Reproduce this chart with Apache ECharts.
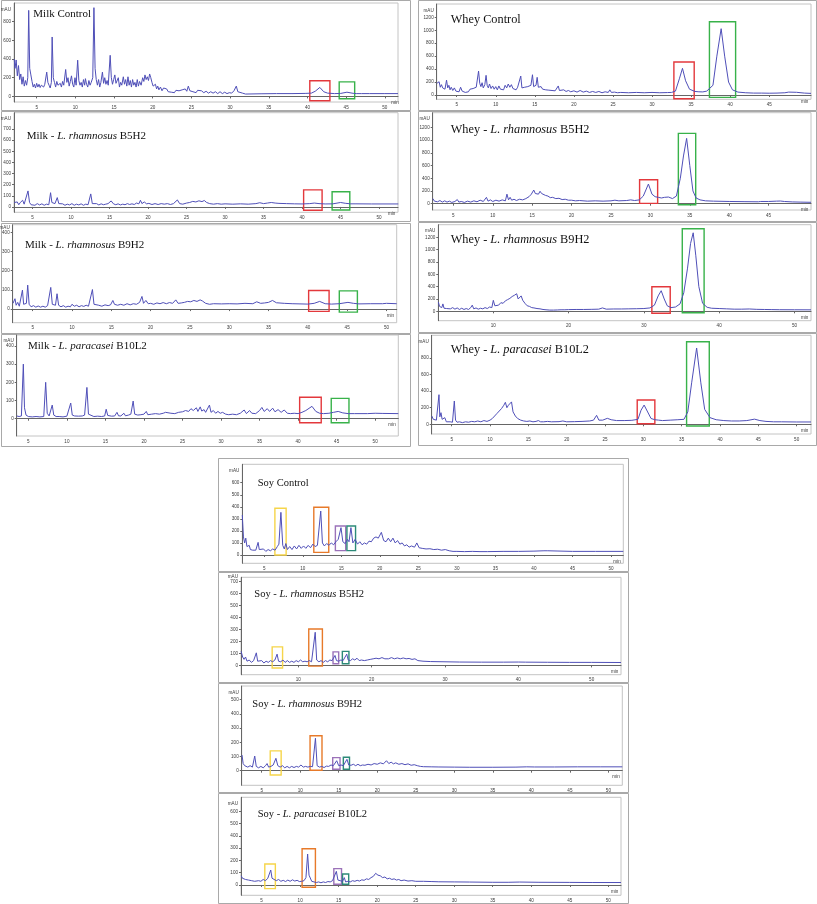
<!DOCTYPE html>
<html>
<head>
<meta charset="utf-8">
<script src="https://cdn.jsdelivr.net/npm/echarts@6.0.0/dist/echarts.min.js"></script>
<style>html,body{margin:0;padding:0;background:#fff}#c{width:817px;height:904px}</style>
</head>
<body>
<div id="c"></div>
<script>
// ---------- data: [time (min), absorbance (mAU)] ----------
const milkControl = [[2.1,400],[2.2,300],[2.35,390],[2.5,220],[2.65,330],[2.8,180],[2.95,240],[3.1,130],[3.25,210],[3.4,110],[3.55,170],[3.7,120],[3.85,200],[3.97,921],[4.1,300],[4.25,230],[4.4,160],[4.55,100],[4.7,130],[4.85,90],[5.0,140],[5.15,100],[5.3,130],[5.45,95],[5.6,120],[5.75,140],[5.9,100],[6.05,130],[6.2,110],[6.3,260],[6.45,150],[6.6,120],[6.75,90],[6.9,150],[7.0,636],[7.15,200],[7.3,150],[7.45,100],[7.6,160],[7.75,120],[7.9,110],[8.05,140],[8.2,100],[8.35,160],[8.5,120],[8.75,288],[8.9,150],[9.05,200],[9.2,110],[9.35,160],[9.5,220],[9.65,130],[9.8,100],[9.95,200],[10.1,120],[10.3,388],[10.45,170],[10.6,120],[10.75,150],[10.9,100],[11.05,180],[11.2,120],[11.3,190],[11.45,130],[11.6,100],[11.75,170],[11.9,120],[12.05,150],[12.25,200],[12.4,950],[12.55,300],[12.7,180],[12.85,120],[13.0,180],[13.15,100],[13.3,150],[13.5,260],[13.65,140],[13.8,200],[13.95,130],[14.1,170],[14.25,120],[14.5,440],[14.65,200],[14.8,130],[14.95,180],[15.1,230],[15.25,140],[15.4,120],[15.55,200],[15.7,100],[15.85,150],[16.0,120],[16.2,210],[16.35,130],[16.5,180],[16.65,110],[16.8,210],[16.95,120],[17.1,170],[17.25,100],[17.4,180],[17.55,120],[17.7,150],[17.85,100],[18.0,180],[18.15,110],[18.3,160],[18.5,120],[18.7,200],[18.85,160],[19.0,230],[19.15,180],[19.3,210],[19.45,170],[19.6,240],[19.75,200],[19.9,150],[20.05,110],[20.2,90],[20.35,130],[20.5,80],[20.65,110],[20.8,70],[21.0,100],[21.2,60],[21.4,90],[21.6,70],[21.8,80],[22.0,50],[22.2,70],[22.4,45],[22.6,60],[22.8,40],[23.0,65],[23.2,45],[23.4,60],[23.6,40],[23.8,70],[24.0,50],[24.2,80],[24.4,55],[24.6,110],[24.8,60],[25.0,80],[25.2,50],[25.4,70],[25.6,40],[25.8,65],[26.0,45],[26.3,60],[26.6,40],[26.9,55],[27.2,35],[27.5,50],[27.8,35],[28.1,50],[28.4,30],[28.7,50],[29.0,30],[29.3,45],[29.6,30],[29.9,40],[30.2,35],[30.5,60],[30.8,110],[31.0,50],[31.2,30],[31.6,35],[32,25],[34,28],[36,30],[38,30],[39.7,32],[39.8,45],[39.9,30],[40.5,35],[41.0,55],[41.6,96],[42.1,50],[42.6,35],[43.5,30],[43.6,38],[43.7,30],[44.3,32],[45.1,45],[45.9,33],[46.3,30],[47,30],[48,30],[50,30],[51.7,30]];
const milkB5H2 = [[2.6,40],[2.8,25],[3.0,45],[3.2,20],[3.4,40],[3.7,60],[3.9,25],[4.1,30],[4.4,144],[4.6,40],[4.8,20],[5.0,30],[5.3,15],[5.6,30],[5.9,18],[6.2,28],[6.5,15],[6.8,25],[7.1,20],[7.33,128],[7.5,40],[7.7,25],[7.9,30],[8.2,84],[8.4,30],[8.6,18],[8.9,28],[9.2,15],[9.5,25],[9.8,18],[10.1,30],[10.4,15],[10.7,25],[11.0,18],[11.3,28],[11.6,15],[11.9,25],[12.2,20],[12.55,117],[12.75,30],[13.0,22],[13.3,30],[13.6,18],[13.9,28],[14.2,20],[14.5,25],[14.8,30],[15.2,54],[15.5,28],[15.8,20],[16.1,28],[16.4,18],[16.7,25],[17.0,20],[17.3,30],[17.6,22],[17.9,28],[18.2,22],[18.5,35],[18.8,28],[19.0,60],[19.2,30],[19.5,45],[19.8,28],[20.1,32],[20.5,22],[20.9,30],[21.3,22],[21.7,30],[22.1,25],[22.5,30],[22.9,22],[23.3,30],[23.8,63],[24.1,30],[24.5,25],[25.0,35],[25.4,40],[25.8,50],[26.2,45],[26.6,55],[27.0,48],[27.3,58],[27.6,40],[28.0,30],[28.5,25],[29.0,30],[29.5,25],[30.0,28],[31,25],[32,28],[33,25],[34,30],[34.5,38],[35,30],[35.5,35],[36,40],[36.5,35],[37,32],[38,30],[39,28],[40,27],[41,30],[41.6,35],[42.2,30],[43,27],[44,28],[45,40],[45.6,33],[46.3,28],[47,28],[49,27],[52.5,27]];
const milkB9H2 = [[2.5,30],[2.75,54],[2.9,20],[3.1,35],[3.3,15],[3.5,25],[3.7,99],[3.85,25],[4.0,15],[4.2,30],[4.37,125],[4.55,25],[4.8,12],[5.1,18],[5.4,10],[5.7,16],[6.0,10],[6.3,15],[6.6,10],[6.9,18],[7.1,15],[7.3,113],[7.5,25],[7.7,15],[7.9,20],[8.1,80],[8.3,20],[8.6,12],[8.9,18],[9.2,10],[9.5,15],[9.8,12],[10.0,25],[10.3,15],[10.6,20],[10.9,12],[11.2,18],[11.5,14],[11.8,20],[12.1,15],[12.35,20],[12.6,102],[12.8,25],[13.0,15],[13.4,20],[13.8,15],[14.2,22],[14.6,18],[14.9,22],[15.2,45],[15.4,25],[15.8,20],[16.2,25],[16.6,20],[17.0,28],[17.4,22],[17.8,28],[18.2,25],[18.6,35],[18.9,66],[19.1,30],[19.4,45],[19.7,28],[20.0,30],[20.4,25],[20.8,32],[21.2,28],[21.6,34],[22.0,28],[22.4,34],[22.8,30],[23.2,48],[23.5,30],[23.9,32],[24.3,35],[24.7,40],[25.1,38],[25.5,45],[25.9,40],[26.3,48],[26.6,42],[27.0,30],[27.5,25],[28.0,28],[29,27],[30,28],[31,27],[32,30],[33,28],[33.5,38],[34,30],[34.5,32],[35,35],[35.5,45],[36,33],[37,30],[38,28],[39,27],[40,26],[40.8,30],[41.5,40],[42.2,28],[43,26],[44,28],[45.1,35],[45.8,30],[46.5,27],[48,28],[49.5,28],[50,30],[51.3,28]];
const milkB10L2 = [[3.5,15],[3.8,12],[4.1,15],[4.35,300],[4.5,60],[4.7,20],[5.0,12],[5.5,10],[6.0,12],[6.5,10],[7.0,12],[7.25,200],[7.45,30],[7.7,15],[7.9,20],[8.1,75],[8.3,20],[8.6,12],[9.0,12],[9.5,10],[10.0,14],[10.2,20],[10.5,86],[10.7,20],[11.0,15],[11.5,14],[12.0,15],[12.3,20],[12.6,172],[12.8,25],[13.0,15],[13.5,12],[14.0,14],[14.5,12],[14.9,15],[15.1,52],[15.3,18],[15.8,14],[16.2,15],[16.5,35],[16.7,16],[17.0,15],[17.4,30],[17.6,16],[18.0,20],[18.3,25],[18.6,97],[18.8,25],[19.2,20],[19.6,22],[20.0,25],[20.3,40],[20.5,22],[21.0,25],[21.5,28],[22.0,25],[22.5,30],[22.8,35],[23.0,25],[23.5,30],[24.0,28],[24.5,35],[25.0,38],[25.4,45],[25.8,40],[26.1,55],[26.4,45],[26.8,60],[27.0,40],[27.3,65],[27.5,42],[27.8,50],[28.0,35],[28.5,75],[28.7,35],[29.0,45],[29.3,30],[29.6,40],[29.9,30],[30.2,35],[30.6,25],[31.0,22],[31.5,25],[32.0,22],[32.5,30],[33.0,48],[33.3,28],[33.7,45],[34.0,30],[34.5,28],[35.0,45],[35.3,62],[35.6,40],[36.0,55],[36.3,40],[36.7,58],[37.0,38],[37.4,50],[37.8,35],[38.2,48],[38.6,30],[39.0,28],[39.5,30],[40.0,28],[40.5,35],[41.0,45],[41.8,68],[42.3,40],[42.8,30],[43.3,28],[44.0,30],[44.6,35],[45.2,40],[45.8,32],[46.5,28],[47.3,28],[47.4,20],[47.5,28],[49,28],[50,30],[51,29],[53,28]];
const wheyControl = [[2.45,180],[2.6,150],[2.75,205],[2.9,120],[3.05,160],[3.2,110],[3.35,140],[3.5,90],[3.7,230],[3.85,110],[4.0,150],[4.15,80],[4.3,120],[4.5,70],[4.7,110],[4.9,60],[5.1,90],[5.3,50],[5.5,120],[5.7,60],[5.9,80],[6.1,40],[6.3,70],[6.5,50],[6.7,90],[6.9,60],[7.1,100],[7.3,70],[7.5,120],[7.8,370],[7.95,180],[8.1,130],[8.25,190],[8.4,110],[8.6,160],[8.76,304],[8.9,150],[9.05,110],[9.2,170],[9.4,100],[9.6,140],[9.8,90],[10.0,130],[10.2,80],[10.4,140],[10.6,90],[10.8,120],[11.0,80],[11.2,150],[11.4,110],[11.6,170],[11.8,120],[12.0,160],[12.2,100],[12.4,130],[12.6,80],[12.8,120],[13.0,90],[13.2,293],[13.35,110],[13.5,80],[13.7,120],[13.9,90],[14.1,130],[14.3,100],[14.5,150],[14.7,313],[14.85,130],[15.0,110],[15.15,150],[15.3,273],[15.45,120],[15.6,100],[15.8,130],[16.0,90],[16.2,110],[16.4,80],[16.6,100],[16.8,75],[17.0,95],[17.2,70],[17.4,90],[17.6,65],[17.8,85],[18.0,140],[18.15,70],[18.4,60],[18.7,80],[19.0,55],[19.3,70],[19.6,50],[20.0,65],[20.4,45],[20.8,70],[21.2,45],[21.6,60],[22.0,40],[22.4,55],[22.8,40],[23.2,55],[23.6,35],[24.0,50],[24.4,40],[24.6,80],[24.8,40],[25.2,45],[25.6,35],[26,40],[27,35],[28,40],[29,35],[30,40],[31,35],[32,38],[32.5,40],[33.0,60],[33.5,250],[33.9,412],[34.3,220],[34.8,90],[35.5,55],[36,50],[36.5,48],[37.0,60],[37.8,150],[38.3,600],[38.85,1024],[39.3,600],[39.8,200],[40.3,80],[41,45],[42,35],[43,30],[44,30],[45,28],[46,30],[47,35],[47.5,45],[48.5,42],[49.5,30],[50.35,25]];
const wheyB5H2 = [[2.4,80],[2.6,40],[2.8,60],[3.0,30],[3.3,50],[3.6,25],[3.9,45],[4.2,25],[4.5,40],[4.8,20],[5.2,35],[5.5,65],[5.7,25],[6.0,35],[6.4,20],[6.8,40],[7.2,25],[7.6,45],[8.0,30],[8.4,55],[8.8,35],[9.2,100],[9.4,40],[9.7,60],[10.0,35],[10.4,55],[10.8,40],[11.2,60],[11.6,45],[11.8,150],[12.0,60],[12.2,100],[12.4,55],[12.7,70],[13.0,50],[13.4,70],[13.8,60],[14.2,80],[14.6,110],[14.9,150],[15.2,215],[15.4,160],[15.6,190],[15.8,150],[16.0,195],[16.2,160],[16.4,170],[16.7,130],[17.0,120],[17.3,95],[17.6,100],[18.0,80],[18.4,85],[18.8,65],[19.2,70],[19.6,55],[20.0,55],[20.5,45],[21,50],[22,40],[23,45],[24,40],[25,45],[25.5,55],[26,45],[27,50],[27.5,60],[28,50],[28.6,60],[29.1,120],[29.75,309],[30.2,150],[30.6,110],[31.0,100],[31.4,90],[31.8,100],[32.3,105],[32.8,80],[33.3,120],[33.8,400],[34.2,750],[34.6,1027],[35.0,600],[35.4,200],[35.8,90],[36.3,60],[37,45],[38,40],[40,35],[42,32],[43.7,30],[44,35],[45,35],[46,40],[46.5,42],[47,35],[48,28],[49,25],[50.38,22]];
const wheyB9H2 = [[2.7,150],[2.85,80],[3.0,110],[3.15,60],[3.3,120],[3.45,50],[3.6,80],[3.8,45],[4.0,70],[4.3,40],[4.6,60],[4.9,35],[5.2,55],[5.5,30],[5.8,50],[6.1,30],[6.4,45],[6.7,30],[7.0,60],[7.2,100],[7.4,40],[7.7,55],[8.0,35],[8.3,50],[8.6,40],[8.9,60],[9.2,45],[9.5,70],[9.8,60],[10.0,178],[10.2,90],[10.4,120],[10.7,100],[11.0,140],[11.3,130],[11.6,170],[11.9,190],[12.2,210],[12.5,240],[12.8,260],[13.1,285],[13.3,200],[13.5,230],[13.7,250],[13.9,180],[14.2,130],[14.5,90],[14.8,80],[15.1,60],[15.4,55],[15.8,45],[16.2,40],[16.6,30],[17.0,25],[17.5,20],[18.0,20],[18.5,22],[19,25],[19.5,25],[20,28],[21,30],[22,30],[23,32],[24,35],[24.5,55],[25,35],[26,38],[27,38],[28,40],[29,42],[30,45],[30.8,55],[31.4,100],[31.9,250],[32.3,334],[32.7,200],[33.1,90],[33.6,60],[34.2,70],[34.8,120],[35.3,300],[35.8,700],[36.2,1100],[36.55,1273],[36.9,900],[37.3,400],[37.8,130],[38.4,65],[39,50],[40,45],[41,40],[42,35],[43,35],[44,38],[45,32],[46,30],[47,28],[48,26],[50,25],[52.2,24]];
const wheyB10L2 = [[2.4,100],[2.6,60],[2.8,80],[3.0,50],[3.2,70],[3.34,357],[3.45,90],[3.6,140],[3.75,60],[3.9,40],[4.1,80],[4.3,30],[4.5,20],[4.8,30],[5.1,25],[5.34,281],[5.5,50],[5.7,25],[6.0,30],[6.4,20],[6.8,30],[7.2,25],[7.6,35],[8.0,30],[8.4,40],[8.8,30],[9.2,45],[9.6,35],[10.0,50],[10.3,70],[10.6,100],[10.9,130],[11.2,160],[11.5,190],[11.8,230],[12.0,265],[12.2,200],[12.4,230],[12.6,210],[12.8,270],[13.0,150],[13.3,100],[13.6,70],[14.0,50],[14.4,40],[14.8,35],[15.2,40],[15.6,30],[16.0,35],[16.3,45],[16.6,30],[17,30],[17.5,35],[18,30],[19,32],[19.5,40],[20,30],[21,32],[22,35],[23,40],[23.5,50],[23.9,108],[24.2,50],[24.7,50],[25.3,72],[25.8,55],[26.5,45],[27.5,45],[28.5,48],[29.3,60],[29.7,170],[30.1,232],[30.5,160],[31.0,70],[31.5,55],[32,50],[32.5,45],[33.5,50],[34.5,55],[35.3,60],[35.8,150],[36.3,500],[36.95,920],[37.5,500],[38.0,180],[38.7,80],[39.5,55],[40.5,45],[41.5,40],[42.5,40],[43.5,45],[44.5,62],[45.2,45],[46,35],[47,30],[48,30],[50,28],[51.87,28]];
const soyControl = [[2.15,332],[2.3,150],[2.45,100],[2.6,140],[2.75,70],[2.9,60],[3.05,80],[3.2,45],[3.35,60],[3.5,40],[3.7,55],[3.9,40],[4.2,105],[4.35,45],[4.6,35],[4.9,50],[5.2,30],[5.5,45],[5.8,35],[6.1,50],[6.4,40],[6.7,70],[6.9,90],[7.16,354],[7.4,80],[7.6,50],[7.8,95],[8.0,45],[8.3,70],[8.6,45],[8.9,75],[9.2,50],[9.5,80],[9.8,55],[10.1,75],[10.4,55],[10.7,80],[11.0,60],[11.3,90],[11.6,70],[11.9,80],[12.1,90],[12.33,365],[12.55,100],[12.8,75],[13.1,95],[13.4,80],[13.7,100],[14.0,85],[14.3,110],[14.6,130],[14.96,227],[15.2,110],[15.5,95],[15.8,130],[16.0,110],[16.25,227],[16.5,100],[16.8,130],[17.1,90],[17.4,110],[17.7,85],[18.0,100],[18.3,90],[18.6,115],[18.9,110],[19.2,140],[19.5,150],[19.8,140],[20.2,188],[20.5,120],[20.8,110],[21.1,140],[21.4,110],[21.7,140],[22.0,100],[22.3,120],[22.6,90],[22.9,100],[23.2,75],[23.5,85],[23.8,65],[24.1,75],[24.5,65],[24.8,100],[25.1,60],[25.5,55],[26,50],[26.5,52],[27,45],[27.5,48],[28,40],[28.5,45],[29,35],[29.5,30],[30,30],[31,28],[32,30],[33,28],[34,28],[36,30],[38,30],[40,32],[41.3,35],[41.5,45],[41.8,35],[43,33],[45,30],[48,30],[51.6,30]];
const soyB5H2 = [[2.2,117],[2.4,70],[2.6,50],[2.8,70],[3.0,35],[3.3,45],[3.6,25],[3.9,40],[4.27,105],[4.45,35],[4.7,25],[5.0,40],[5.3,20],[5.6,35],[5.9,25],[6.2,40],[6.5,30],[6.8,45],[7.1,94],[7.3,35],[7.6,30],[7.9,45],[8.2,25],[8.5,40],[8.8,25],[9.1,35],[9.4,25],[9.7,40],[10.0,30],[10.3,45],[10.6,30],[10.9,35],[11.2,30],[11.5,40],[11.8,30],[12.05,40],[12.3,277],[12.5,45],[12.8,30],[13.1,40],[13.4,25],[13.7,40],[14.0,30],[14.3,45],[14.6,40],[15.0,83],[15.2,40],[15.5,35],[15.8,45],[16.1,40],[16.6,94],[16.8,45],[17.1,40],[17.4,55],[17.7,45],[18.0,60],[18.3,40],[18.6,45],[19.0,40],[19.4,45],[19.8,50],[20.2,55],[20.6,60],[21.0,55],[21.4,65],[21.8,55],[22.0,70],[22.3,55],[22.7,65],[23.1,55],[23.5,62],[23.9,55],[24.3,62],[24.7,55],[25.1,58],[25.5,50],[25.9,55],[26.3,40],[27,35],[28,32],[30,30],[32,28],[35,27],[38,27],[40,28],[40.1,40],[40.2,28],[41,27],[41.1,18],[41.2,27],[44,26],[47,25],[50,25],[54,24]];
const soyB9H2 = [[2.45,110],[2.6,50],[2.8,35],[3.0,45],[3.2,25],[3.5,35],[3.8,25],[4.1,103],[4.3,30],[4.6,20],[4.9,30],[5.2,20],[5.5,35],[5.7,50],[5.9,25],[6.2,30],[6.5,40],[6.85,87],[7.1,35],[7.4,25],[7.7,35],[8.0,20],[8.3,30],[8.6,20],[8.9,30],[9.2,22],[9.5,30],[9.8,25],[10.1,40],[10.4,25],[10.7,30],[11.0,25],[11.3,30],[11.6,28],[11.98,228],[12.2,35],[12.5,25],[12.8,30],[13.1,22],[13.4,32],[13.7,30],[14.0,40],[14.3,35],[14.74,70],[15.0,35],[15.3,40],[15.6,35],[16.07,80],[16.3,40],[16.6,38],[16.9,45],[17.2,35],[17.5,45],[17.8,35],[18.1,40],[18.4,38],[18.8,45],[19.2,40],[19.6,50],[20.0,45],[20.4,55],[20.8,48],[21.2,70],[21.5,50],[21.8,60],[22.1,48],[22.4,55],[22.8,45],[23.2,50],[23.6,42],[24.0,48],[24.4,38],[24.8,42],[25.2,35],[25.6,30],[26,28],[27,27],[28,26],[30,25],[32,24],[35,24],[38,25],[39.4,27],[39.5,35],[39.6,27],[40.4,26],[40.5,18],[40.6,26],[43,26],[46,27],[49,27],[51.8,27]];
const soyB10L2 = [[2.35,75],[2.5,55],[2.7,65],[2.9,45],[3.1,60],[3.3,40],[3.5,50],[3.7,35],[3.9,45],[4.1,30],[4.3,40],[4.6,35],[4.9,30],[5.2,45],[5.5,35],[5.8,55],[6.0,70],[6.18,122],[6.35,55],[6.6,40],[6.9,35],[7.2,45],[7.5,30],[7.8,38],[8.1,28],[8.4,40],[8.7,30],[9.0,42],[9.3,32],[9.6,38],[9.9,28],[10.2,30],[10.5,35],[10.75,60],[10.97,252],[11.15,80],[11.3,80],[11.5,30],[11.8,25],[12.1,20],[12.4,25],[12.7,18],[13.0,25],[13.3,20],[13.6,28],[13.9,25],[14.2,35],[14.45,45],[14.7,111],[14.9,40],[15.2,35],[15.5,30],[15.73,60],[15.9,25],[16.2,30],[16.5,25],[16.8,35],[17.1,30],[17.4,38],[17.7,32],[18.0,42],[18.3,38],[18.6,50],[18.9,45],[19.2,60],[19.5,70],[19.8,95],[20.1,80],[20.4,75],[20.7,60],[21.0,65],[21.3,50],[21.6,55],[21.9,45],[22.2,50],[22.5,40],[22.8,45],[23.1,35],[23.5,40],[24,32],[24.5,35],[25,30],[26,30],[27,28],[28,26],[28.1,20],[28.2,26],[30,25],[32,24],[35,22],[35.1,30],[35.2,22],[37,22],[37.1,30],[37.2,22],[38.5,24],[41,22],[45,21],[48,20],[51.65,20]];

// highlighted peak boxes: [peak id, t start, t end, mAU low, mAU high]
const milkControlBoxes = [['p1',40.3,42.9,-47,167],['p2',44.1,46.1,-26,156]];
const milkB5H2Boxes = [['p1',40.2,42.6,-30,153],['p2',43.9,46.2,-27,137]];
const milkB9H2Boxes = [['p1',40.1,42.7,-12,97],['p2',44.0,46.3,-16,95]];
const milkB10L2Boxes = [['p1',40.2,43.0,-22,118],['p2',44.3,46.6,-22,112]];
const wheyControlBoxes = [['p1',32.8,35.4,-57,510],['p2',37.35,40.7,-36,1132]];
const wheyB5H2Boxes = [['p1',28.63,30.92,5,377],['p2',33.55,35.75,-16,1105]];
const wheyB9H2Boxes = [['p1',31.06,33.5,-32,399],['p2',35.1,38.0,-23,1338]];
const wheyB10L2Boxes = [['p1',29.2,31.5,7,293],['p2',35.64,38.6,-20,995]];
const soyControlBoxes = [['p1',6.38,7.84,0,388],['p2',11.43,13.37,22,396],['p3',14.23,15.57,36,241],['p4',15.73,16.85,36,241]];
const soyB5H2Boxes = [['p1',6.43,7.85,-22,155],['p2',11.42,13.28,-6,305],['p3',14.73,15.5,13,113],['p4',16.0,16.9,13,117]];
const soyB9H2Boxes = [['p1',6.11,7.53,-30,139],['p2',11.28,12.83,3,246],['p3',14.22,15.17,10,92],['p4',15.6,16.4,10,94]];
const soyB10L2Boxes = [['p1',5.41,6.78,-30,171],['p2',10.25,11.98,-19,295],['p3',14.37,15.37,6,133],['p4',15.5,16.3,6,90]];

// tick labels
const minTicks5 = [5,10,15,20,25,30,35,40,45,50];
const minTicks5to45 = [5,10,15,20,25,30,35,40,45];
const minTicks10 = [10,20,30,40,50];
const mauTicks0to800by200 = [0,200,400,600,800];
const mauTicks0to1200by200 = [0,200,400,600,800,1000,1200];
const mauTicks0to700 = [0,100,200,300,400,500,600,700];
const mauTicks0to600 = [0,100,200,300,400,500,600];
const mauTicks0to500 = [0,100,200,300,400,500];
const mauTicks0to400 = [0,100,200,300,400];

// titles: [normal, italic, normal]
const titles = {
  milkControl: ['Milk Control','',''], milkB5H2: ['Milk - ','L. rhamnosus',' B5H2'],
  milkB9H2: ['Milk - ','L. rhamnosus',' B9H2'], milkB10L2: ['Milk - ','L. paracasei',' B10L2'],
  wheyControl: ['Whey Control','',''], wheyB5H2: ['Whey - ','L. rhamnosus',' B5H2'],
  wheyB9H2: ['Whey - ','L. rhamnosus',' B9H2'], wheyB10L2: ['Whey - ','L. paracasei',' B10L2'],
  soyControl: ['Soy Control','',''], soyB5H2: ['Soy - ','L. rhamnosus',' B5H2'],
  soyB9H2: ['Soy - ','L. rhamnosus',' B9H2'], soyB10L2: ['Soy - ','L. paracasei',' B10L2']
};

// ---------- layout & style ----------
const boxColorsMW = {p1:'#e3383c', p2:'#38b24a'};
const boxColorsSoy = {p1:'#f6d54a', p2:'#e77a2a', p3:'#9b72b9', p4:'#2c8a78'};
const LINE = '#4f4fb8';

const panels = [
 {key:'milkControl', data:milkControl, boxes:milkControlBoxes, bc:boxColorsMW, g:[14,3,398,102], x:[2.07,51.7], y:[-60,1000], xt:minTicks5, yt:mauTicks0to800by200, fs:11, tp:[33.3,9.3], frame:[1,0,410,110]},
 {key:'milkB5H2', data:milkB5H2, boxes:milkB5H2Boxes, bc:boxColorsMW, g:[14,112.7,398,212.3], x:[2.58,52.46], y:[-48,846], xt:minTicks5, yt:mauTicks0to700, fs:11, tp:[26.7,131.7], frame:[1,111,410,221]},
 {key:'milkB9H2', data:milkB9H2, boxes:milkB9H2Boxes, bc:boxColorsMW, g:[12.7,224.7,396.7,322.7], x:[2.46,51.3], y:[-71,440], xt:minTicks5, yt:mauTicks0to400, fs:11, tp:[25,240.3], frame:[1,223,410,333]},
 {key:'milkB10L2', data:milkB10L2, boxes:milkB10L2Boxes, bc:boxColorsMW, g:[16.7,335,398.3,436], x:[3.49,53.0], y:[-95,460], xt:minTicks5, yt:mauTicks0to400, fs:11, tp:[28,341.7], frame:[1,334,410,446]},
 {key:'wheyControl', data:wheyControl, boxes:wheyControlBoxes, bc:boxColorsMW, g:[436.7,4,811,99.3], x:[2.44,50.35], y:[-66,1405], xt:minTicks5to45, yt:mauTicks0to1200by200, fs:12.3, tp:[450.7,15], frame:[418,0,816,110]},
 {key:'wheyB5H2', data:wheyB5H2, boxes:wheyB5H2Boxes, bc:boxColorsMW, g:[432.7,112.7,811,210], x:[2.38,50.38], y:[-99,1430], xt:minTicks5to45, yt:mauTicks0to1200by200, fs:12.3, tp:[450.7,125], frame:[418,111,816,221]},
 {key:'wheyB9H2', data:wheyB9H2, boxes:wheyB9H2Boxes, bc:boxColorsMW, g:[438.3,224.7,811,320.7], x:[2.69,52.2], y:[-152,1404], xt:minTicks10, yt:mauTicks0to1200by200, fs:12.3, tp:[450.7,235.3], frame:[418,222,816,332]},
 {key:'wheyB10L2', data:wheyB10L2, boxes:wheyB10L2Boxes, bc:boxColorsMW, g:[431.7,335.3,811,434], x:[2.39,51.87], y:[-117,1073], xt:minTicks5, yt:mauTicks0to800by200, fs:12.3, tp:[450.7,345.3], frame:[418,333,816,445]},
 {key:'soyControl', data:soyControl, boxes:soyControlBoxes, bc:boxColorsSoy, g:[242.3,464.3,623.3,563.3], x:[2.15,51.6], y:[-69,753], xt:minTicks5, yt:mauTicks0to600, fs:10.5, tp:[257.7,479], frame:[218,458,628,571]},
 {key:'soyB5H2', data:soyB5H2, boxes:soyB5H2Boxes, bc:boxColorsSoy, g:[241,577.3,621,674.7], x:[2.18,54.0], y:[-78,737], xt:minTicks10, yt:mauTicks0to700, fs:10.5, tp:[254.3,589.7], frame:[218,572,628,682]},
 {key:'soyB9H2', data:soyB9H2, boxes:soyB9H2Boxes, bc:boxColorsSoy, g:[241.7,686,622.3,785.3], x:[2.41,51.8], y:[-103,596], xt:minTicks5, yt:mauTicks0to500, fs:10.5, tp:[252.3,699.3], frame:[218,683,628,792]},
 {key:'soyB10L2', data:soyB10L2, boxes:soyB10L2Boxes, bc:boxColorsSoy, g:[241,797.3,621,895.3], x:[2.32,51.65], y:[-84,714], xt:minTicks5, yt:mauTicks0to600, fs:10.5, tp:[257.7,810], frame:[218,793,628,903]}
];

const grid = [], xAxis = [], yAxis = [], series = [], title = [], graphic = [];
const tickFont = {fontSize:4.6, color:'#3a3a3a', fontFamily:'Liberation Sans'};
const plain = v => String(v);
panels.forEach((p, i) => {
  const [l,t,r,b] = p.g;
  grid.push({left:l, top:t, width:r-l, height:b-t, show:true, borderColor:'#c4c4c4', borderWidth:1, backgroundColor:'#fff', outerBoundsMode:'none', containLabel:false});
  xAxis.push({type:'value', gridIndex:i, min:p.x[0], max:p.x[1], splitLine:{show:false},
    axisLine:{lineStyle:{color:'#666', width:1}}, axisTick:{length:2, lineStyle:{color:'#666'}, customValues:p.xt},
    axisLabel:Object.assign({customValues:p.xt, margin:3, formatter:plain}, tickFont),
    name:'min', nameLocation:'end', nameGap:-10, nameTextStyle:Object.assign({align:'left', verticalAlign:'top', padding:[4,0,0,0]}, tickFont)});
  yAxis.push({type:'value', gridIndex:i, min:p.y[0], max:p.y[1], splitLine:{show:false},
    axisLine:{show:true, lineStyle:{color:'#666', width:1}}, axisTick:{show:true, length:2, lineStyle:{color:'#666'}, customValues:p.yt},
    axisLabel:Object.assign({customValues:p.yt, margin:3, formatter:plain}, tickFont),
    name:'mAU', nameLocation:'end', nameGap:-4, nameTextStyle:Object.assign({align:'right', verticalAlign:'top', padding:[0,3,0,0]}, tickFont)});
  const col = p.bc;
  series.push({type:'line', xAxisIndex:i, yAxisIndex:i, data:p.data, showSymbol:false, symbol:'none', silent:true,
    lineStyle:{color:LINE, width:1}, animation:false, clip:true,
    markArea:{silent:true, label:{show:false}, data:p.boxes.map(bx => [
      {xAxis:bx[1], yAxis:bx[3], itemStyle:{color:'rgba(0,0,0,0)', borderColor:col[bx[0]], borderWidth:1.4}},
      {xAxis:bx[2], yAxis:bx[4]}])}});
  const tt = titles[p.key];
  let txt = '{n|' + tt[0] + '}';
  if (tt[1]) txt += '{i|' + tt[1] + '}{n|' + tt[2] + '}';
  title.push({text:txt, left:p.tp[0], top:p.tp[1] - p.fs*0.1, padding:0,
    textStyle:{rich:{
      n:{fontFamily:'Liberation Serif', fontSize:p.fs, color:'#111', fontWeight:'normal'},
      i:{fontFamily:'Liberation Serif', fontSize:p.fs, color:'#111', fontStyle:'italic', fontWeight:'normal'}}}});
  const f = p.frame;
  graphic.push({type:'rect', z:-1, silent:true, shape:{x:f[0]+0.5, y:f[1]+0.5, width:f[2]-f[0], height:f[3]-f[1]}, style:{fill:'#fff', stroke:'#a9a9a9', lineWidth:1}});
});

const chart = echarts.init(document.getElementById('c'), null, {renderer:'canvas'});
chart.setOption({backgroundColor:'#fff', animation:false, grid, xAxis, yAxis, series, title, graphic});
</script>
</body>
</html>
